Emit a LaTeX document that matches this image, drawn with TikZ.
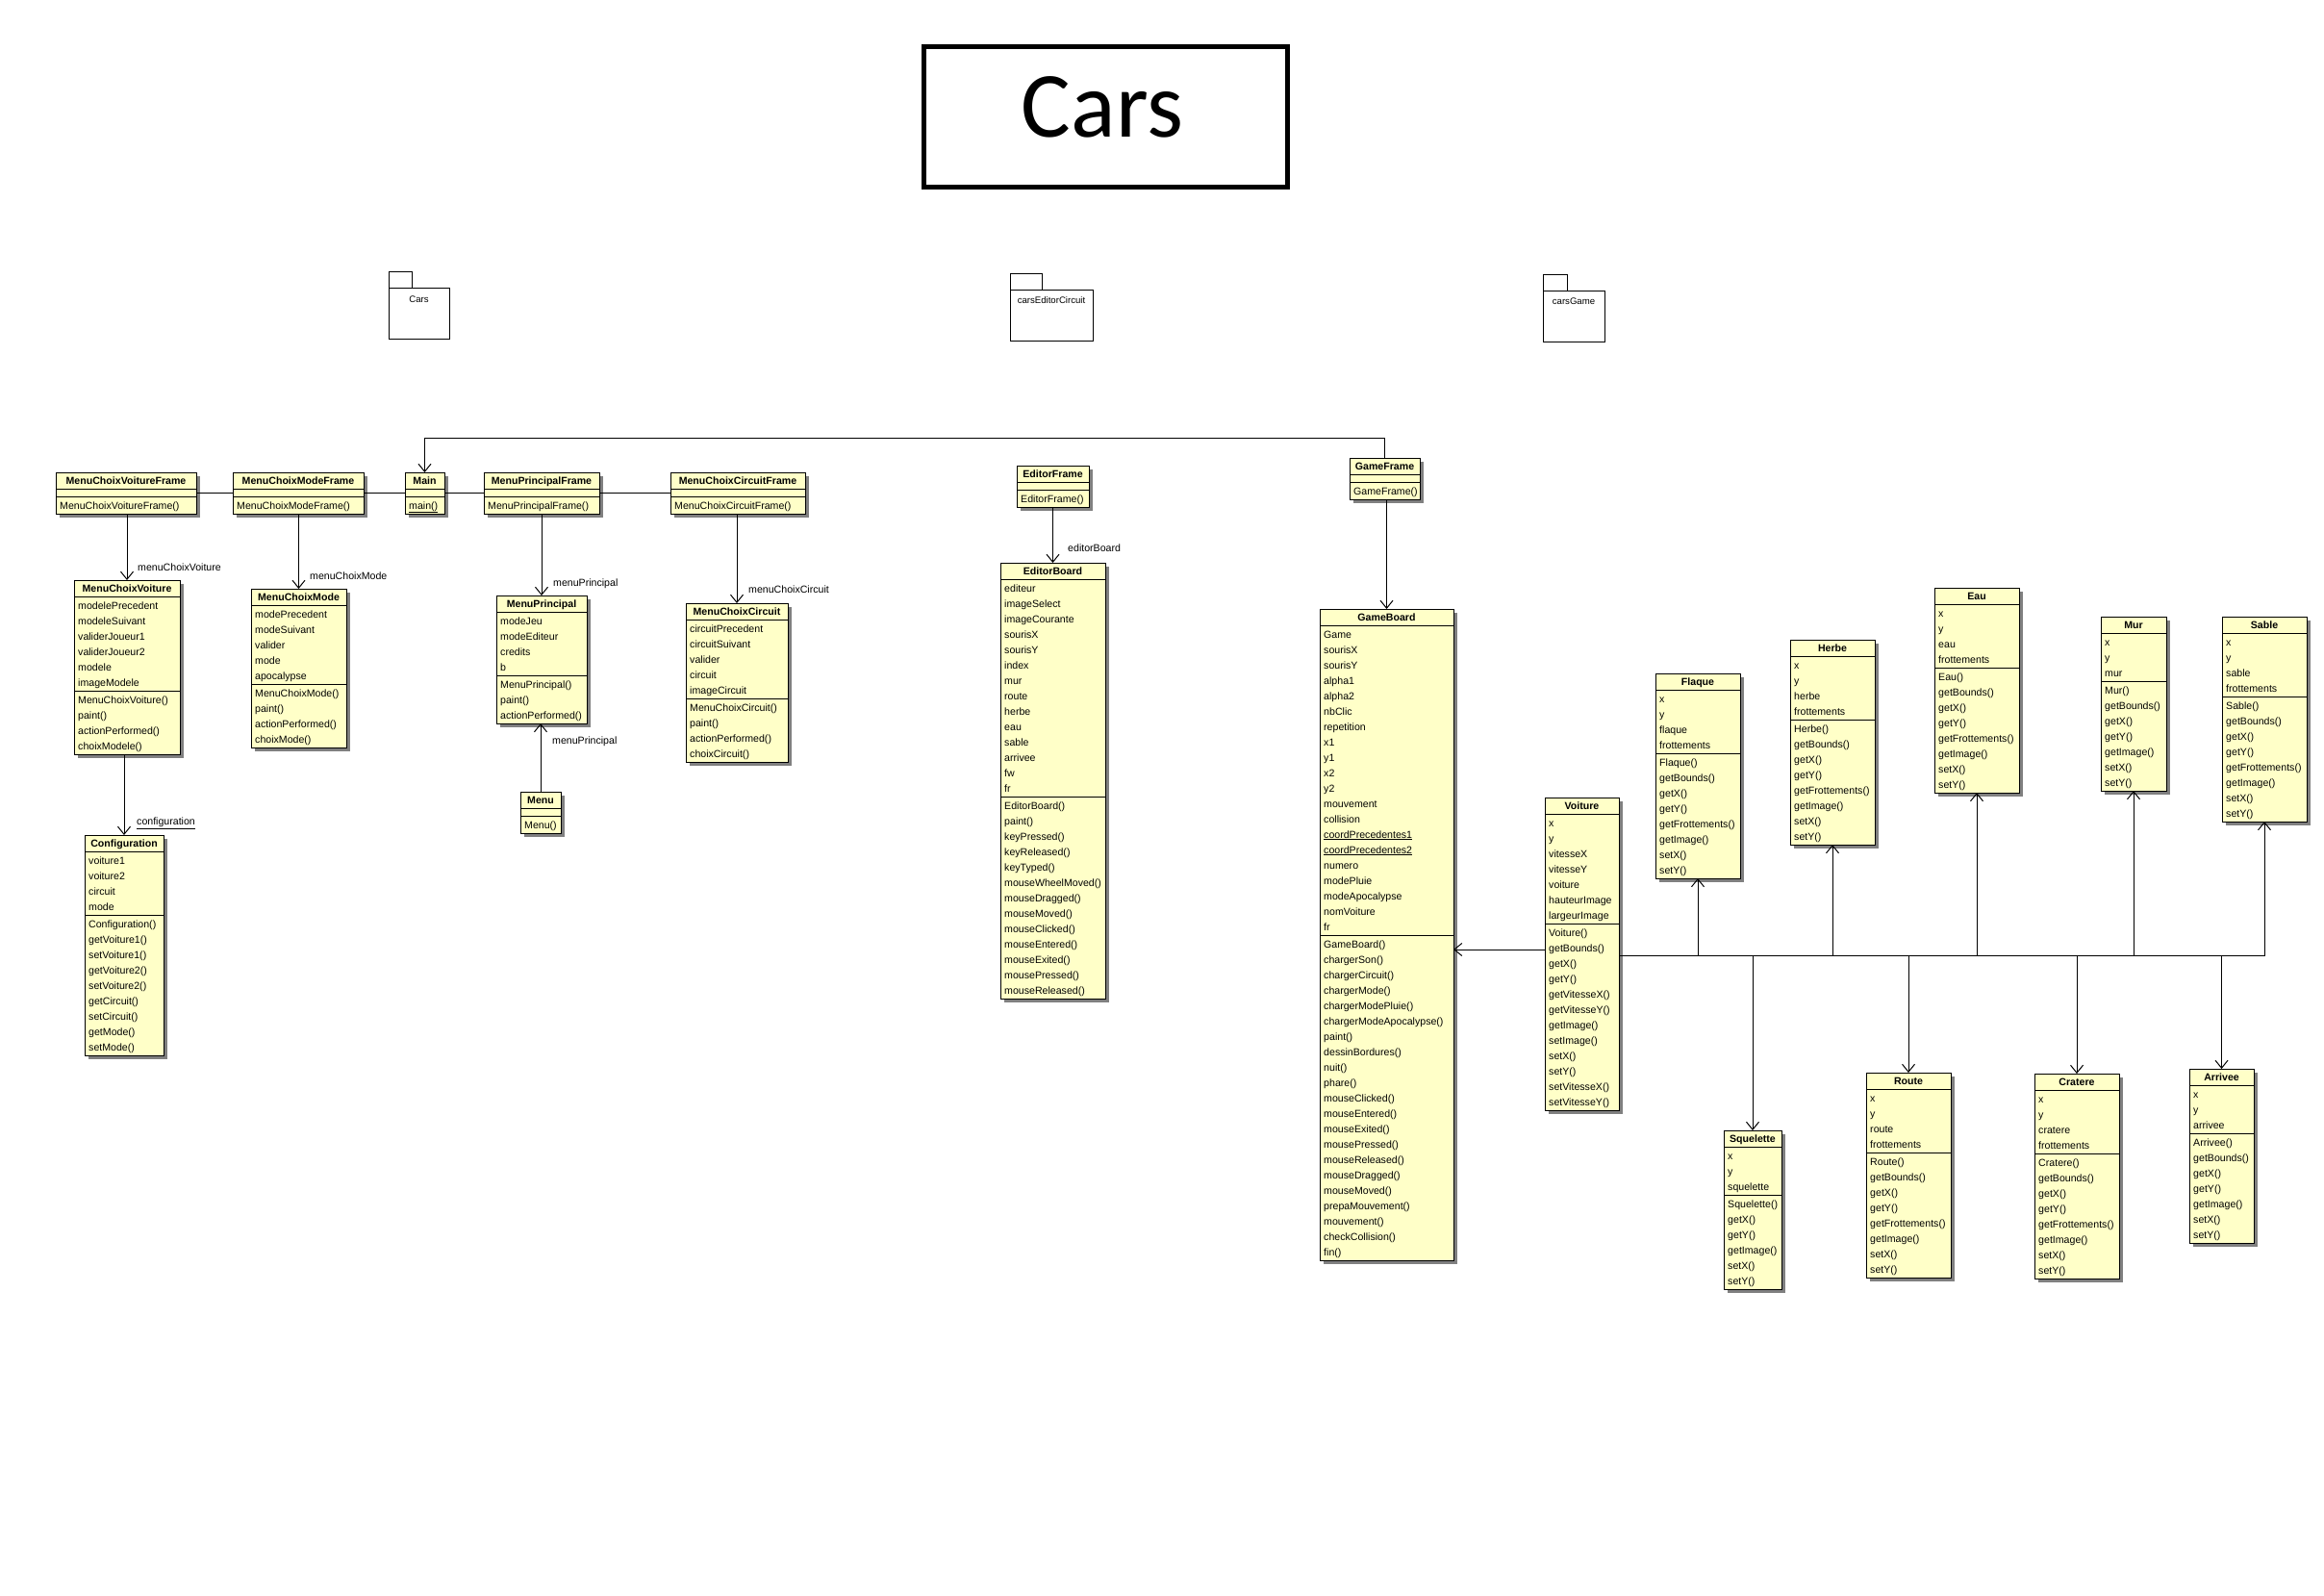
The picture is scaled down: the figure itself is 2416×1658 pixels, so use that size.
\documentclass[tikz,border=0pt]{standalone}
\usepackage{fontspec}
\setmainfont{Liberation Sans}
\newfontfamily\titlefont{Carlito}
\usetikzlibrary{arrows.meta}
\definecolor{classfill}{RGB}{255,255,200}
\definecolor{shadowgray}{RGB}{128,128,128}

\tikzset{
  classbox/.style={draw=black,fill=classfill,line width=1pt,inner sep=0pt,outer sep=0pt},
  classline/.style={draw=black,line width=1pt},
  titletext/.style={anchor=base,inner sep=0pt,font=\fontsize{10.6}{16}\selectfont\bfseries},
  rowtext/.style={anchor=base west,inner sep=0pt,font=\fontsize{10.6}{16}\selectfont},
  lbl/.style={anchor=west,inner sep=0pt,font=\fontsize{10.6}{16}\selectfont},
  assoc/.style={draw=black,line width=1pt,-{Straight Barb[length=8pt,width=13pt,line width=1pt]}},
  plainline/.style={draw=black,line width=1pt},
  pkgbox/.style={draw=black,line width=1pt,inner sep=0pt,outer sep=0pt,anchor=north west},
  pkgtext/.style={inner sep=0pt,font=\fontsize{9.6}{12}\selectfont}
}

% #1 id, #2 x, #3 y(top), #4 width, #5 title, #6 n attrs, #7 attrs, #8 n methods, #9 methods
\newcommand\umlclass[9]{%
  \pgfmathsetmacro\ucA{#3+17}%
  \pgfmathsetmacro\ucB{\ucA+ifthenelse(#6==0,8,#6*16+2)}%
  \pgfmathsetmacro\ucC{\ucB+#8*16+2}%
  \pgfmathsetmacro\ucH{\ucC-#3}%
  \fill[shadowgray] (#2+4,#3+4) rectangle (#2+#4+4,\ucC+4);
  \node[classbox,minimum width=#4,minimum height=\ucH,anchor=north west] (#1) at (#2,#3) {};
  \draw[classline] (#2,\ucA) -- (#2+#4,\ucA) (#2,\ucB) -- (#2+#4,\ucB);
  \node[titletext] (#1-t) at (#2+#4/2,#3+12.5) {#5};
  \ifnum#6>0
    \foreach \s [count=\i] in {#7} {\node[rowtext] (#1-a\i) at (#2+4,\ucA+13+16*\i-16) {\s};}
  \fi
  \foreach \s [count=\i] in {#9} {\node[rowtext] (#1-m\i) at (#2+4,\ucB+13+16*\i-16) {\s};}
}

\begin{document}
\begin{tikzpicture}[x=1pt,y=-1pt]
\useasboundingbox (0,0) rectangle (2416,1658);
\fill[white] (0,0) rectangle (2416,1658);

% title
\node[draw=black,line width=5pt,minimum width=378,minimum height=146,inner sep=0pt,anchor=north west] (titlebox) at (957.5,45.5) {};
\node[anchor=base,inner sep=0pt,font=\titlefont\fontsize{97}{110}\selectfont] (titletext) at (1146,142) {Cars};

% packages
\draw[line width=1pt] (404,282) rectangle (428,299);
\node[pkgbox,minimum width=63,minimum height=53] (pkgcars) at (404,299) {};
\node[pkgtext] (pkgcars-t) at (435.5,311) {Cars};
\draw[line width=1pt] (1050,284) rectangle (1083,301);
\node[pkgbox,minimum width=86,minimum height=53] (pkgeditor) at (1050,301) {};
\node[pkgtext] (pkgeditor-t) at (1093,312) {carsEditorCircuit};
\draw[line width=1pt] (1604,285) rectangle (1629,302);
\node[pkgbox,minimum width=64,minimum height=53] (pkggame) at (1604,302) {};
\node[pkgtext] (pkggame-t) at (1636,313) {carsGame};

% frames row
\umlclass{mcvf}{58}{491}{146}{MenuChoixVoitureFrame}{0}{}{1}{MenuChoixVoitureFrame()}
\umlclass{mcmf}{242}{491}{136}{MenuChoixModeFrame}{0}{}{1}{MenuChoixModeFrame()}
\umlclass{main}{421}{491}{41}{Main}{0}{}{1}{\underline{main()}}
\umlclass{mpf}{503}{491}{120}{MenuPrincipalFrame}{0}{}{1}{MenuPrincipalFrame()}
\umlclass{mccf}{697}{491}{140}{MenuChoixCircuitFrame}{0}{}{1}{MenuChoixCircuitFrame()}

\umlclass{mcv}{77}{603}{110}{MenuChoixVoiture}{6}{modelePrecedent,modeleSuivant,validerJoueur1,validerJoueur2,modele,imageModele}{4}{MenuChoixVoiture(),paint(),actionPerformed(),choixModele()}
\umlclass{mcm}{261}{612}{99}{MenuChoixMode}{5}{modePrecedent,modeSuivant,valider,mode,apocalypse}{4}{MenuChoixMode(),paint(),actionPerformed(),choixMode()}
\umlclass{config}{88}{868}{82}{Configuration}{4}{voiture1,voiture2,circuit,mode}{9}{Configuration(),getVoiture1(),setVoiture1(),getVoiture2(),setVoiture2(),getCircuit(),setCircuit(),getMode(),setMode()}
\umlclass{mp}{516}{619}{94}{MenuPrincipal}{4}{modeJeu,modeEditeur,credits,b}{3}{MenuPrincipal(),paint(),actionPerformed()}
\umlclass{menu}{541}{823}{42}{Menu}{0}{}{1}{Menu()}
\umlclass{mcc}{713}{627}{106}{MenuChoixCircuit}{5}{circuitPrecedent,circuitSuivant,valider,circuit,imageCircuit}{4}{MenuChoixCircuit(),paint(),actionPerformed(),choixCircuit()}

% editor
\umlclass{ef}{1057}{484}{75}{EditorFrame}{0}{}{1}{EditorFrame()}
\umlclass{eb}{1040}{585}{109}{EditorBoard}{14}{editeur,imageSelect,imageCourante,sourisX,sourisY,index,mur,route,herbe,eau,sable,arrivee,fw,fr}{13}{EditorBoard(),paint(),keyPressed(),keyReleased(),keyTyped(),mouseWheelMoved(),mouseDragged(),mouseMoved(),mouseClicked(),mouseEntered(),mouseExited(),mousePressed(),mouseReleased()}

% game
\umlclass{gf}{1403}{476}{73}{GameFrame}{0}{}{1}{GameFrame()}
\umlclass{gb}{1372}{633}{139}{GameBoard}{20}{Game,sourisX,sourisY,alpha1,alpha2,nbClic,repetition,x1,y1,x2,y2,mouvement,collision,{\underline{coordPrecedentes1}},{\underline{coordPrecedentes2}},numero,modePluie,modeApocalypse,nomVoiture,fr}{21}{GameBoard(),chargerSon(),chargerCircuit(),chargerMode(),chargerModePluie(),chargerModeApocalypse(),paint(),dessinBordures(),nuit(),phare(),mouseClicked(),mouseEntered(),mouseExited(),mousePressed(),mouseReleased(),mouseDragged(),mouseMoved(),prepaMouvement(),mouvement(),checkCollision(),fin()}
\umlclass{voiture}{1606}{829}{77}{Voiture}{7}{x,y,vitesseX,vitesseY,voiture,hauteurImage,largeurImage}{12}{Voiture(),getBounds(),getX(),getY(),getVitesseX(),getVitesseY(),getImage(),setImage(),setX(),setY(),setVitesseX(),setVitesseY()}

\umlclass{flaque}{1721}{700}{88}{Flaque}{4}{x,y,flaque,frottements}{8}{Flaque(),getBounds(),getX(),getY(),getFrottements(),getImage(),setX(),setY()}
\umlclass{herbe}{1861}{665}{88}{Herbe}{4}{x,y,herbe,frottements}{8}{Herbe(),getBounds(),getX(),getY(),getFrottements(),getImage(),setX(),setY()}
\umlclass{eau}{2011}{611}{88}{Eau}{4}{x,y,eau,frottements}{8}{Eau(),getBounds(),getX(),getY(),getFrottements(),getImage(),setX(),setY()}
\umlclass{mur}{2184}{641}{68}{Mur}{3}{x,y,mur}{7}{Mur(),getBounds(),getX(),getY(),getImage(),setX(),setY()}
\umlclass{sable}{2310}{641}{88}{Sable}{4}{x,y,sable,frottements}{8}{Sable(),getBounds(),getX(),getY(),getFrottements(),getImage(),setX(),setY()}
\umlclass{squelette}{1792}{1175}{60}{Squelette}{3}{x,y,squelette}{6}{Squelette(),getX(),getY(),getImage(),setX(),setY()}
\umlclass{route}{1940}{1115}{88}{Route}{4}{x,y,route,frottements}{8}{Route(),getBounds(),getX(),getY(),getFrottements(),getImage(),setX(),setY()}
\umlclass{cratere}{2115}{1116}{88}{Cratere}{4}{x,y,cratere,frottements}{8}{Cratere(),getBounds(),getX(),getY(),getFrottements(),getImage(),setX(),setY()}
\umlclass{arrivee}{2276}{1111}{67}{Arrivee}{3}{x,y,arrivee}{7}{Arrivee(),getBounds(),getX(),getY(),getImage(),setX(),setY()}

% connectors: frame row
\draw[plainline] (mcvf.east) -- (mcmf.west);
\draw[plainline] (mcmf.east) -- (main.west);
\draw[plainline] (main.east) -- (mpf.west);
\draw[plainline] (mpf.east) -- (mccf.west);

% GameFrame -> Main
\coordinate (topy) at (800,455);
\draw[assoc] (gf.north) -- (gf.north |- topy) -| (main.north);

% menus
\draw[assoc] (mcvf.south -| mcv.north) -- (mcv.north);
\node[lbl] (l-mcv) at (143,590) {menuChoixVoiture};
\draw[assoc] (mcmf.south -| mcm.north) -- (mcm.north);
\node[lbl] (l-mcm) at (322,599) {menuChoixMode};
\draw[assoc] (mcv.south -| config.north) -- (config.north);
\node[lbl] (l-config) at (142,856) {\underline{configuration}};
\draw[assoc] (mpf.south -| mp.north) -- (mp.north);
\node[lbl] (l-mp1) at (575,607) {menuPrincipal};
\draw[assoc] (menu.north) -- (menu.north |- mp.south);
\node[lbl] (l-mp2) at (574,771) {menuPrincipal};
\draw[assoc] (mccf.south -| mcc.north) -- (mcc.north);
\node[lbl] (l-mcc) at (778,613) {menuChoixCircuit};

% editor
\draw[assoc] (ef.south -| eb.north) -- (eb.north);
\node[lbl] (l-eb) at (1110,570) {editorBoard};

% game
\draw[assoc] (gf.south -| gb.north) -- (gb.north);
\coordinate (vgy) at (1550,987);
\draw[assoc] (voiture.west |- vgy) -- (gb.east |- vgy);

\coordinate (busy) at (1700,993);
\draw[assoc] (voiture.east |- busy) -| (flaque.south);
\draw[assoc] (voiture.east |- busy) -| (herbe.south);
\draw[assoc] (voiture.east |- busy) -| (eau.south);
\draw[assoc] (voiture.east |- busy) -| (mur.south);
\draw[assoc] (voiture.east |- busy) -| (sable.south);
\draw[assoc] (voiture.east |- busy) -| (squelette.north);
\draw[assoc] (voiture.east |- busy) -| (route.north);
\draw[assoc] (voiture.east |- busy) -| (cratere.north);
\draw[assoc] (voiture.east |- busy) -| (arrivee.north);
\end{tikzpicture}
\end{document}
